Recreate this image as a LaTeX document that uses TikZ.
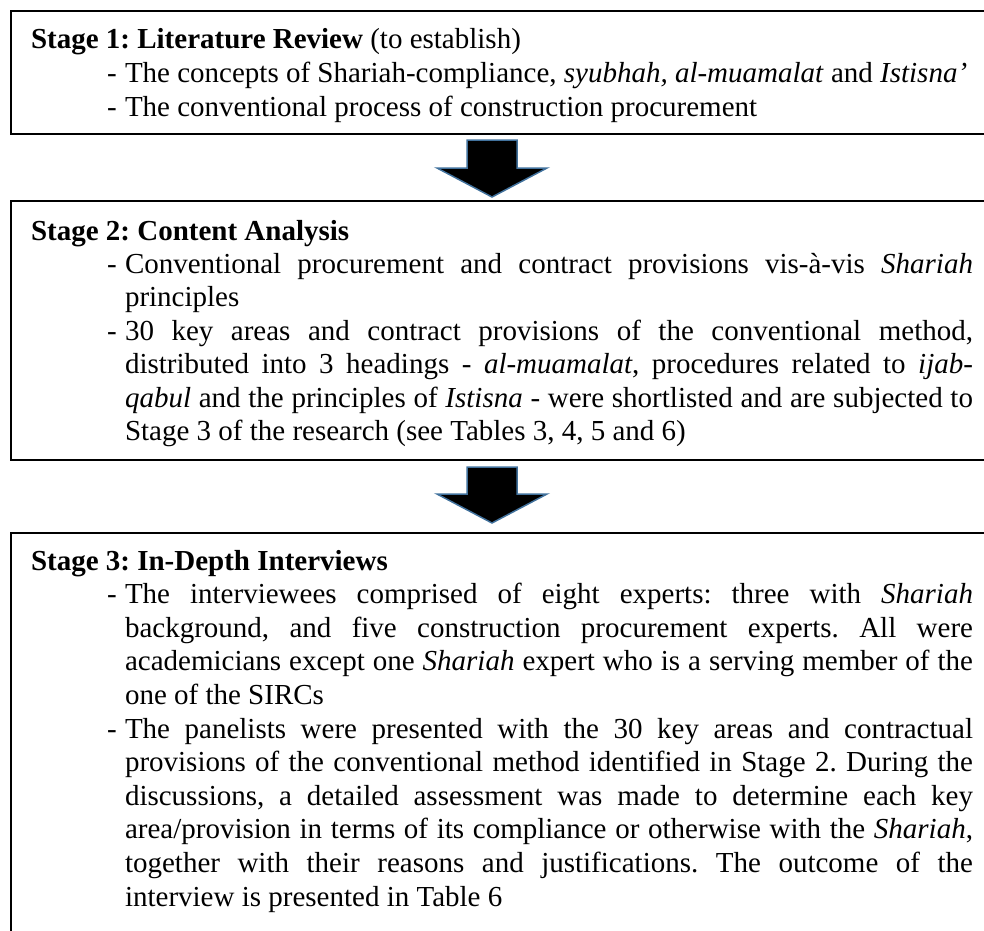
\documentclass[tikz,border=0pt]{standalone}
\usepackage{fontspec}
\setmainfont{Liberation Serif}
\definecolor{arrowedge}{HTML}{41719C}
\tikzset{
  stagebox/.style={draw=black, line width=1.5pt, rectangle, anchor=north west, inner sep=0pt, minimum width=980pt},
  txt/.style={anchor=base west, inner sep=0pt, outer sep=0pt, font=\fontsize{29}{33.4}\selectfont\frenchspacing},
  blockarrow/.style={fill=black, draw=arrowedge, line width=1.5pt, line join=miter},
}
\newlength\jw
\setlength\jw{848pt}
\newcommand\jline[1]{\makebox[\jw][s]{#1}}
\begin{document}
\begin{tikzpicture}[x=1pt,y=-1pt]
\useasboundingbox (0,0) rectangle (984,930);
\clip (0,0) rectangle (984,930);

% boxes
\node[stagebox, minimum height=123pt] (box1) at (10,10) {};
\node[stagebox, minimum height=259pt] (box2) at (10,200) {};
\node[stagebox, minimum height=430pt] (box3) at (10,532) {};

% block arrows
\draw[blockarrow] (467,140) -- (517,140) -- (517,168) -- (547,168) -- (492,197) -- (437,168) -- (467,168) -- cycle;
\draw[blockarrow] (467,467) -- (517,467) -- (517,494) -- (547,494) -- (492,523) -- (437,494) -- (467,494) -- cycle;

% Stage 1
\node[txt] (h1) at (31,48) {\textbf{Stage 1: Literature Review} (to establish)};
\node[txt] (d1a) at (107,82) {-};
\node[txt] (t1a) at (125,82) {The concepts of Shariah-compliance, \textit{syubhah, al-muamalat} and \textit{Istisna’}};
\node[txt] (d1b) at (107,116) {-};
\node[txt] (t1b) at (125,116) {The conventional process of construction procurement};

% Stage 2
\node[txt] (h2) at (31,240) {\textbf{Stage 2: Content Analysis}};
\node[txt] (d2a) at (107,273.4) {-};
\node[txt] (t2a1) at (125,273.4) {\jline{Conventional procurement and contract provisions vis-à-vis \textit{Shariah}}};
\node[txt] (t2a2) at (125,306.8) {principles};
\node[txt] (d2b) at (107,340.2) {-};
\node[txt] (t2b1) at (125,340.2) {\jline{30 key areas and contract provisions of the conventional method,}};
\node[txt] (t2b2) at (125,373.6) {\jline{distributed into 3 headings - \textit{al-muamalat}, procedures related to \textit{ijab-}}};
\node[txt] (t2b3) at (125,407) {\jline{\textit{qabul} and the principles of \textit{Istisna} - were shortlisted and are subjected to}};
\node[txt] (t2b4) at (125,440.4) {Stage 3 of the research (see Tables 3, 4, 5 and 6)};

% Stage 3
\node[txt] (h3) at (31,570) {\textbf{Stage 3: In-Depth Interviews}};
\node[txt] (d3a) at (107,603.6) {-};
\node[txt] (t3a1) at (125,603.6) {\jline{The interviewees comprised of eight experts: three with \textit{Shariah}}};
\node[txt] (t3a2) at (125,637.2) {\jline{background, and five construction procurement experts. All were}};
\node[txt] (t3a3) at (125,670.8) {\jline{academicians except one \textit{Shariah} expert who is a serving member of the}};
\node[txt] (t3a4) at (125,704.4) {one of the SIRCs};
\node[txt] (d3b) at (107,738) {-};
\node[txt] (t3b1) at (125,738) {\jline{The panelists were presented with the 30 key areas and contractual}};
\node[txt] (t3b2) at (125,771.6) {\jline{provisions of the conventional method identified in Stage 2. During the}};
\node[txt] (t3b3) at (125,805.2) {\jline{discussions, a detailed assessment was made to determine each key}};
\node[txt] (t3b4) at (125,838.8) {\jline{area/provision in terms of its compliance or otherwise with the \textit{Shariah},}};
\node[txt] (t3b5) at (125,872.4) {\jline{together with their reasons and justifications. The outcome of the}};
\node[txt] (t3b6) at (125,906) {interview is presented in Table 6};
\end{tikzpicture}
\end{document}
